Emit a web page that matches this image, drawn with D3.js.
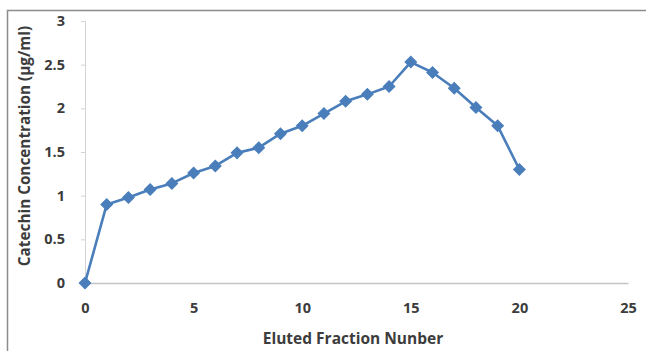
<!DOCTYPE html>
<html><head><meta charset="utf-8">
<script src="https://cdn.jsdelivr.net/npm/d3@7/dist/d3.min.js"></script>
<style>html,body{margin:0;padding:0;background:#fff;overflow:hidden}</style>
</head><body>
<svg id="c" width="646" height="351"></svg>
<script>
const fractions = [0,1,2,3,4,5,6,7,8,9,10,11,12,13,14,15,16,17,18,19,20];
const concentration = [0,0.90,0.98,1.07,1.14,1.26,1.34,1.49,1.55,1.71,1.80,1.94,2.08,2.16,2.25,2.53,2.41,2.23,2.01,1.80,1.30];
const xTicks = [0,5,10,15,20,25];
const yTicks = [0,0.5,1,1.5,2,2.5,3];
const xTitle = "Eluted Fraction Nunber";
const yTitle = "Catechin Concentration (µg/ml)";

const svg = d3.select("#c");
const font = "'Open Sans', 'DejaVu Sans', sans-serif";
const textCol = "#3c3c3c";

svg.append("rect").attr("x",7.5).attr("y",10.5).attr("width",660).attr("height",400)
  .attr("fill","none").attr("stroke","#8c8c8c").attr("stroke-width",1.5);

const x = d3.scaleLinear().domain([0,25]).range([85,628]);
const y = d3.scaleLinear().domain([0,3]).range([283,21]);

// y axis
const ya = svg.append("g").attr("transform","translate(85,0)")
  .call(d3.axisLeft(y).tickValues(yTicks).tickFormat(d=>String(d)).tickSize(4).tickPadding(16));
ya.select(".domain").attr("stroke","#d4d4d4");
ya.selectAll(".tick line").attr("stroke","#d4d4d4");
ya.selectAll(".tick text").attr("font-family",font).attr("font-weight","700")
  .attr("font-size","14.5px").attr("fill",textCol);

// x axis
const xa = svg.append("g").attr("transform","translate(0,283)")
  .call(d3.axisBottom(x).tickValues(xTicks).tickFormat(d=>String(d)).tickSize(0).tickPadding(20));
xa.select(".domain").attr("stroke","#c4c4c4").attr("stroke-width",1.3);
xa.selectAll(".tick text").attr("font-family",font).attr("font-weight","700")
  .attr("font-size","14.5px").attr("fill",textCol);

// titles
svg.append("text").attr("x",353).attr("y",344).attr("text-anchor","middle")
  .attr("font-family",font).attr("font-weight","700").attr("font-size","15.5px")
  .attr("fill",textCol).text(xTitle);
svg.append("text").attr("transform","translate(30,146) rotate(-90)").attr("text-anchor","middle")
  .attr("font-family",font).attr("font-weight","700").attr("font-size","15.3px")
  .attr("fill",textCol).text(yTitle);

const data = fractions.map((f,i)=>({f, v: concentration[i]}));
const color = "#4a7ebb";
svg.append("path").datum(data)
  .attr("d", d3.line().x(d=>x(d.f)).y(d=>y(d.v)))
  .attr("fill","none").attr("stroke",color).attr("stroke-width",2.6).attr("stroke-linejoin","round");

svg.append("g").selectAll("path").data(data).join("path")
  .attr("transform", d=>`translate(${x(d.f)},${y(d.v)}) rotate(45)`)
  .attr("d", d3.symbol().type(d3.symbolSquare).size(64))
  .attr("fill",color).attr("stroke",color).attr("stroke-width",1.2);
</script>
</body></html>
